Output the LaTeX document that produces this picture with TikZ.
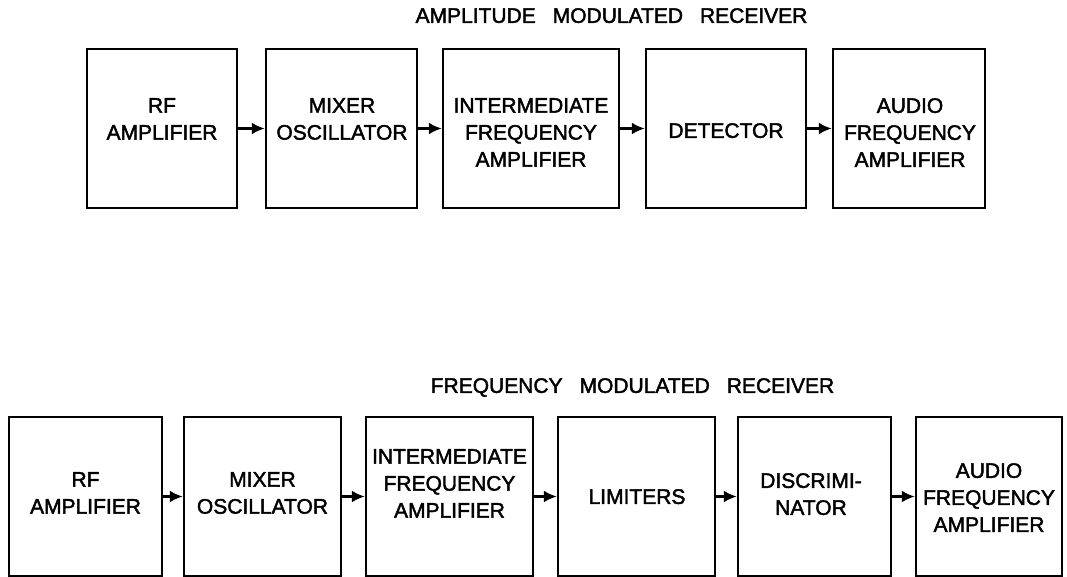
\documentclass[tikz,border=0pt]{standalone}
\usepackage{fontspec}
\setmainfont{Liberation Sans}[FakeBold=2]
\usetikzlibrary{arrows.meta}
\begin{document}
\begin{tikzpicture}[x=1pt,y=-1pt,
  blk/.style={draw,line width=2.5pt,rectangle,inner sep=0pt,minimum height=159pt},
  lbl/.style={anchor=north,inner sep=0pt,align=center,font=\fontsize{21}{27}\selectfont},
  ttl/.style={anchor=north,inner sep=0pt,font=\fontsize{21}{26}\selectfont},
  arr/.style={line width=2.2pt,-{Latex[length=13pt,width=12pt]}}]
\useasboundingbox (0,0) rectangle (1067,577);

% titles
\node[ttl] (t1) at (611.5,8) {AMPLITUDE\hspace{17pt}MODULATED\hspace{17pt}RECEIVER};
\node[ttl] (t2) at (632.5,378) {FREQUENCY\hspace{17pt}MODULATED\hspace{17pt}RECEIVER};

% AM receiver
\node[blk,minimum width=150pt] (a1) at (162,128.5) {};
\node[blk,minimum width=151pt] (a2) at (341.5,128.5) {};
\node[blk,minimum width=176pt] (a3) at (531,128.5) {};
\node[blk,minimum width=160pt] (a4) at (726,128.5) {};
\node[blk,minimum width=152pt] (a5) at (909,128.5) {};

\node[lbl] (la1) at (162,98) {RF\\AMPLIFIER};
\node[lbl] (la2) at (342,98) {MIXER\\OSCILLATOR};
\node[lbl] (la3) at (531,98) {INTERMEDIATE\\FREQUENCY\\AMPLIFIER};
\node[lbl] (la4) at (726,123) {DETECTOR};
\node[lbl] (la5) at (910,98) {AUDIO\\FREQUENCY\\AMPLIFIER};

\draw[arr] (a1) -- (a2);
\draw[arr] (a2) -- (a3);
\draw[arr] (a3) -- (a4);
\draw[arr] (a4) -- (a5);

% FM receiver
\node[blk,minimum width=153pt] (b1) at (85.5,496.5) {};
\node[blk,minimum width=157pt] (b2) at (262.5,496.5) {};
\node[blk,minimum width=167pt] (b3) at (449.5,496.5) {};
\node[blk,minimum width=157pt] (b4) at (636.5,496.5) {};
\node[blk,minimum width=153pt] (b5) at (814.5,496.5) {};
\node[blk,minimum width=146pt] (b6) at (989,496.5) {};

\node[lbl] (lb1) at (85.5,472) {RF\\AMPLIFIER};
\node[lbl] (lb2) at (262.5,472) {MIXER\\OSCILLATOR};
\node[lbl] (lb3) at (449.5,449) {INTERMEDIATE\\FREQUENCY\\AMPLIFIER};
\node[lbl] (lb4) at (637,489) {LIMITERS};
\node[lbl] (lb5) at (811,473) {DISCRIMI-\\NATOR};
\node[lbl] (lb6) at (989,463) {AUDIO\\FREQUENCY\\AMPLIFIER};

\draw[arr] (b1) -- (b2);
\draw[arr] (b2) -- (b3);
\draw[arr] (b3) -- (b4);
\draw[arr] (b4) -- (b5);
\draw[arr] (b5) -- (b6);
\end{tikzpicture}
\end{document}
